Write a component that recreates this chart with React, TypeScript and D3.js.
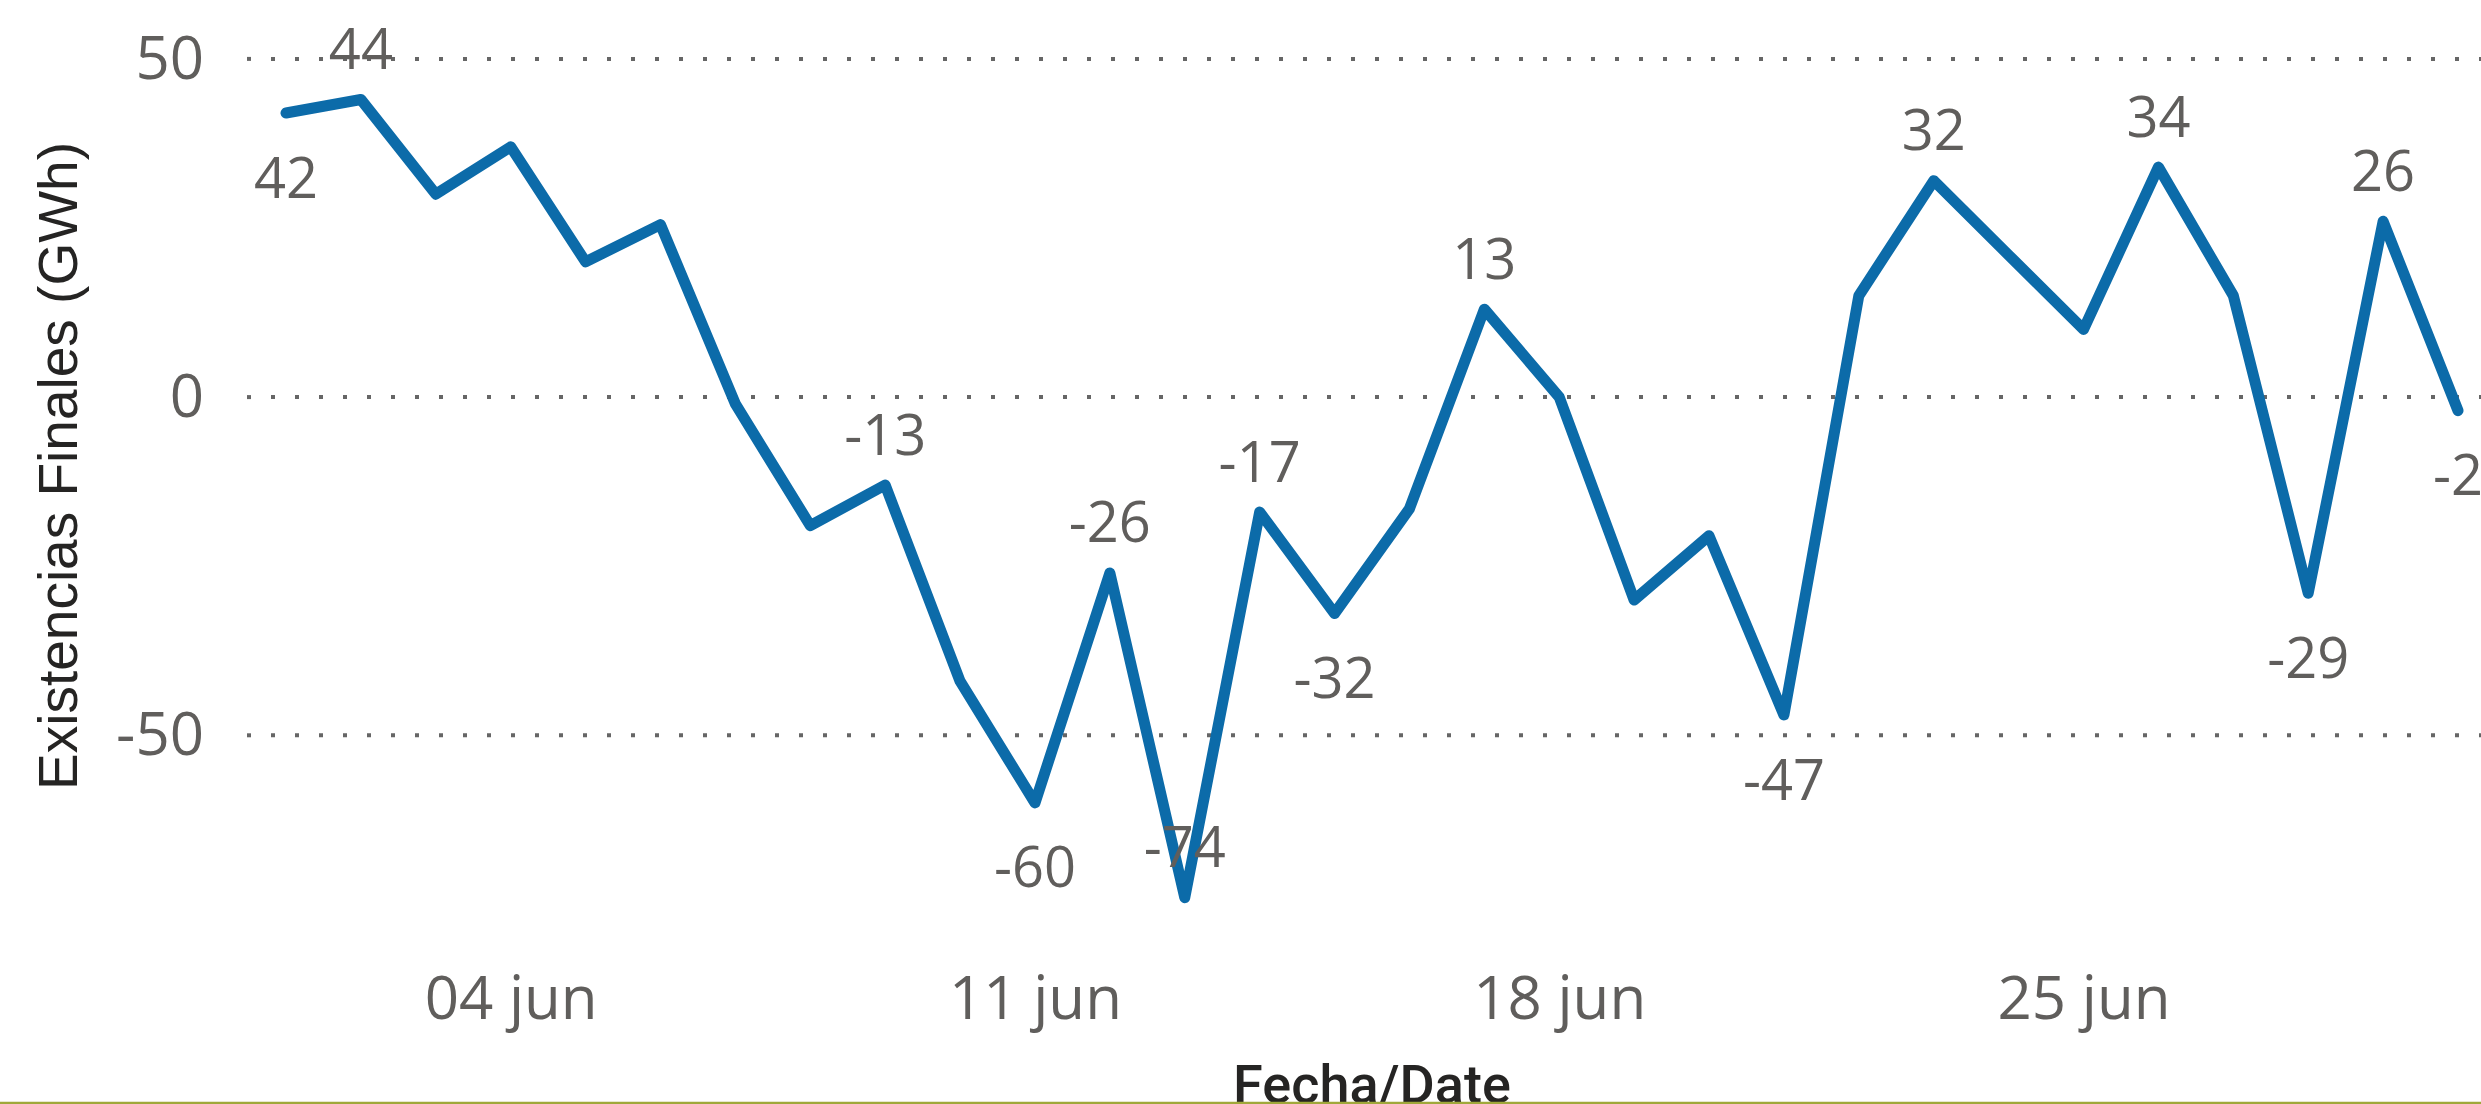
import React, { useRef, useEffect } from 'react';
import * as d3 from 'd3';

// Existencias finales por día (junio)
const days = [1, 2, 3, 4, 5, 6, 7, 8, 9, 10, 11, 12, 13, 14, 15, 16, 17, 18, 19, 20, 21, 22, 23, 24, 25, 26, 27, 28, 29, 30];
const existencias = [42, 44, 30, 37, 20, 25.5, -1, -19, -13, -42, -60, -26, -74, -17, -32, -16.5, 13, 0, -30, -20.5, -47, 15, 32, 21, 10, 34, 15, -29, 26, -2];

// days whose data label is shown
const labeledDays = [1, 2, 9, 11, 12, 13, 14, 15, 17, 21, 23, 26, 28, 29, 30];

const xTickDays = [4, 11, 18, 25];
const xTickLabels = ["04 jun", "11 jun", "18 jun", "25 jun"];
const yTicks = [-50, 0, 50];

const WIDTH = 2481;
const HEIGHT = 1104;

function App() {
  const svgRef = useRef(null);

  useEffect(() => {
    const svg = d3.select(svgRef.current);
    svg.selectAll("*").remove();

    const toDate = (d: number) => new Date(2024, 5, d);
    const data = days.map((d, i) => ({ day: d, date: toDate(d), value: existencias[i] }));

    // Scales
    const x = d3.scaleTime()
      .domain([toDate(1), toDate(30)])
      .range([286, 2458]);

    const y = d3.scaleLinear()
      .domain([-50, 50])
      .range([735.3, 58.9]);

    const gridLeft = 247;
    const plotBottom = 930;
    const grey = "#605E5C";
    const labelFont = "'Segoe UI', 'Open Sans', sans-serif";
    const fmt = (v: number) => String(Math.round(v)); // plain hyphen minus

    // Dotted gridlines
    svg.append("g")
      .selectAll("line")
      .data(yTicks)
      .enter()
      .append("line")
      .attr("x1", gridLeft)
      .attr("x2", WIDTH + 20)
      .attr("y1", d => y(d))
      .attr("y2", d => y(d))
      .attr("stroke", "#666666")
      .attr("stroke-width", 4)
      .attr("stroke-dasharray", "4,20");

    // Y axis labels
    const yAxis = svg.append("g")
      .attr("transform", "translate(204,0)")
      .call(d3.axisLeft(y).tickValues(yTicks).tickSize(0).tickPadding(0).tickFormat(fmt));
    yAxis.select(".domain").remove();
    yAxis.selectAll("text")
      .attr("fill", grey)
      .style("font-family", labelFont)
      .style("font-size", "60px");

    // X axis labels
    const xAxis = svg.append("g")
      .attr("transform", "translate(0,1019)")
      .call(d3.axisBottom(x)
        .tickValues(xTickDays.map(toDate))
        .tickFormat((d, i) => xTickLabels[i])
        .tickSize(0));
    xAxis.select(".domain").remove();
    xAxis.selectAll("text")
      .attr("y", 0)
      .attr("dy", 0)
      .attr("fill", grey)
      .style("font-family", labelFont)
      .style("font-size", "60px");

    // Line
    const line = d3.line()
      .x(d => x(d.date))
      .y(d => y(d.value));

    svg.append("path")
      .datum(data)
      .attr("d", line)
      .attr("fill", "none")
      .attr("stroke", "#0C6BA9")
      .attr("stroke-width", 11)
      .attr("stroke-linejoin", "round")
      .attr("stroke-linecap", "round");

    // Data labels: below local minima, above otherwise
    const labelData = data.filter(d => labeledDays.includes(d.day));
    svg.append("g")
      .selectAll("text")
      .data(labelData)
      .enter()
      .append("text")
      .attr("x", d => x(d.date))
      .attr("y", d => {
        const i = days.indexOf(d.day);
        const prev = i > 0 ? existencias[i - 1] : Infinity;
        const next = i < existencias.length - 1 ? existencias[i + 1] : Infinity;
        const isMin = d.value < prev && d.value < next;
        const py = y(d.value);
        if (isMin && py + 85 <= plotBottom) return py + 84.5;
        return py - 30.5;
      })
      .attr("text-anchor", "middle")
      .attr("fill", grey)
      .style("font-family", labelFont)
      .style("font-size", "56px")
      .text(d => fmt(d.value));

    // Y axis title
    svg.append("text")
      .attr("transform", "translate(77,466) rotate(-90)")
      .attr("text-anchor", "middle")
      .attr("fill", "#252423")
      .style("font-family", "'Liberation Sans', Arial, sans-serif")
      .style("font-size", "55px")
      .text("Existencias Finales (GWh)");

    // X axis title
    svg.append("text")
      .attr("x", 1372)
      .attr("y", 1103)
      .attr("text-anchor", "middle")
      .attr("fill", "#252423")
      .style("font-family", "Roboto, sans-serif")
      .style("font-weight", 500)
      .style("font-size", "54px")
      .text("Fecha/Date");

    // bottom rule
    svg.append("line")
      .attr("x1", 0)
      .attr("x2", WIDTH)
      .attr("y1", 1103)
      .attr("y2", 1103)
      .attr("stroke", "#A0A83A")
      .attr("stroke-width", 2.5);
  }, []);

  return (
    <svg
      ref={svgRef}
      width={WIDTH}
      height={HEIGHT}
      style={{ position: "absolute", left: 0, top: 0, overflow: "hidden", background: "#fff" }}
    ></svg>
  );
}

export default App;
